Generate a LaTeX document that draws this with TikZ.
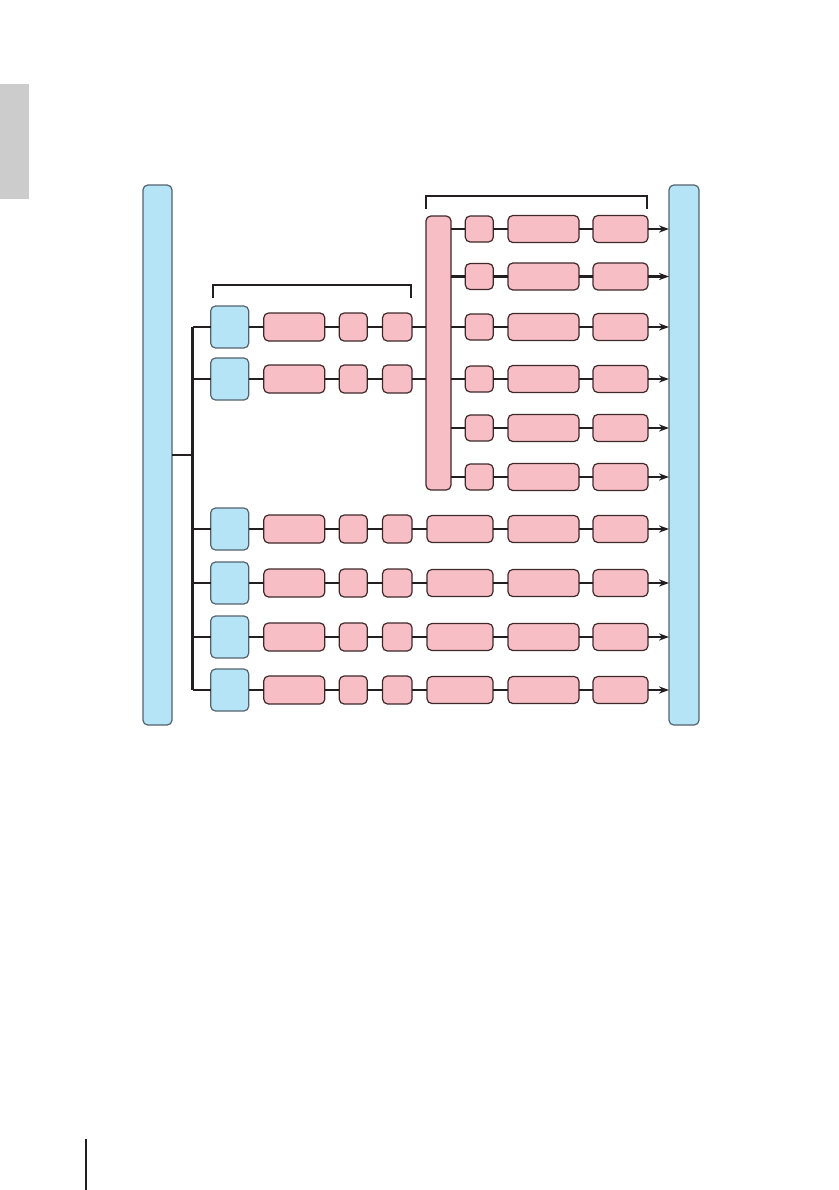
\documentclass[tikz,border=0pt]{standalone}
\usepackage{tikz}
\usetikzlibrary{arrows.meta, calc}
\definecolor{diagInk}{RGB}{35,31,32}
\definecolor{diagHub}{RGB}{181,228,247}
\definecolor{diagHubEdge}{RGB}{84,98,110}
\definecolor{diagStage}{RGB}{247,190,198}
\definecolor{diagStageEdge}{RGB}{62,40,42}
\definecolor{diagTab}{RGB}{204,204,204}
\tikzset{
  % generic rounded box; the colour comes from hub or stage below
  box/.style={
    draw, rounded corners=2.4pt, line width=0.6pt,
    inner sep=0pt, outer sep=0pt
  },
  hub/.style={box, fill=diagHub, draw=diagHubEdge},
  stage/.style={box, fill=diagStage, draw=diagStageEdge},
  % box sizes (1 unit of the picture = 0.5pt)
  hubbox/.style={hub, minimum width=19pt, minimum height=21pt},
  wideA/.style={stage, minimum width=30.5pt, minimum height=14pt},
  smallB/.style={stage, minimum width=14pt, minimum height=14pt},
  smallC/.style={stage, minimum width=14.75pt, minimum height=14pt},
  wideD/.style={stage, minimum width=33pt, minimum height=13.5pt},
  wideE/.style={stage, minimum width=35.5pt, minimum height=13.5pt},
  wideF/.style={stage, minimum width=27.5pt, minimum height=13.5pt},
  smallS/.style={stage, minimum width=14pt, minimum height=13pt},
  % connectors
  link/.style={draw=diagInk, line width=1.2pt},
  flow/.style={link, -{Stealth[length=5pt,width=3.6pt]}},
  bracket/.style={draw=diagInk, line width=1.2pt},
}
\begin{document}
\begin{tikzpicture}[x=0.5pt, y=-0.5pt]
\useasboundingbox (0,0) rectangle (839,1190);

% ===========================================================================
% PAGE MARKS: side tab and footer rule
% ===========================================================================
\fill[diagTab] (0,84) rectangle (29,199);
\draw[diagInk, line width=0.8pt] (86,1139) -- (86,1190);

% ===========================================================================
% OUTER BARS: source on the left, sink on the right
% ===========================================================================
\node[hub, minimum width=14.5pt, minimum height=270pt] (lbar) at (157.5,455) {};
\node[hub, minimum width=15pt, minimum height=270pt] (rbar) at (684,455) {};

% bus that feeds every row
\coordinate (busTop) at (192.5,327);
\coordinate (busMid) at (192.5,455);
\coordinate (busBot) at (192.5,690);
\draw[link] (busTop) -- (busBot);
\draw[link] (lbar.east |- busMid) -- (busMid);

% ===========================================================================
% UPPER ROWS: two short chains joined into the splitter
% ===========================================================================
\node[hubbox] (u1hub) at (229.7,327) {};
\node[wideA]  (u1a)   at (294.3,327) {};
\node[smallB] (u1b)   at (353.3,327) {};
\node[smallC] (u1c)   at (397.3,327) {};

\node[hubbox] (u2hub) at (229.7,379) {};
\node[wideA]  (u2a)   at (294.3,379) {};
\node[smallB] (u2b)   at (353.3,379) {};
\node[smallC] (u2c)   at (397.3,379) {};

\draw[link] (busTop |- u1hub) -- (u1hub) -- (u1a) -- (u1b) -- (u1c);
\draw[link] (busTop |- u2hub) -- (u2hub) -- (u2a) -- (u2b) -- (u2c);

\draw[bracket] (213,298) |- (411,285) -- (411,298);

% --- splitter bar ---
\node[stage, minimum width=12.5pt, minimum height=137pt] (split) at (438.5,353) {};

\draw[link] (u1c) -- (u1c -| split.west);
\draw[link] (u2c) -- (u2c -| split.west);

% ===========================================================================
% SPLIT ROWS: six chains out of the splitter
% ===========================================================================
\node[smallS] (s1a) at (479.3,229) {};
\node[wideE]  (s1b) at (543.5,229) {};
\node[wideF]  (s1c) at (620.5,229) {};

\node[smallS] (s2a) at (479.3,276.5) {};
\node[wideE]  (s2b) at (543.5,276.5) {};
\node[wideF]  (s2c) at (620.5,276.5) {};

\node[smallS] (s3a) at (479.3,327) {};
\node[wideE]  (s3b) at (543.5,327) {};
\node[wideF]  (s3c) at (620.5,327) {};

\node[smallS] (s4a) at (479.3,379) {};
\node[wideE]  (s4b) at (543.5,379) {};
\node[wideF]  (s4c) at (620.5,379) {};

\node[smallS] (s5a) at (479.3,428) {};
\node[wideE]  (s5b) at (543.5,428) {};
\node[wideF]  (s5c) at (620.5,428) {};

\node[smallS] (s6a) at (479.3,477) {};
\node[wideE]  (s6b) at (543.5,477) {};
\node[wideF]  (s6c) at (620.5,477) {};

\draw[link] (split.east |- s1a) -- (s1a) -- (s1b) -- (s1c);
\draw[link] (split.east |- s2a) -- (s2a) -- (s2b) -- (s2c);
\draw[link] (split.east |- s3a) -- (s3a) -- (s3b) -- (s3c);
\draw[link] (split.east |- s4a) -- (s4a) -- (s4b) -- (s4c);
\draw[link] (split.east |- s5a) -- (s5a) -- (s5b) -- (s5c);
\draw[link] (split.east |- s6a) -- (s6a) -- (s6b) -- (s6c);

\draw[flow] (s1c) -- (s1c -| rbar.west);
\draw[flow] (s2c) -- (s2c -| rbar.west);
\draw[flow] (s3c) -- (s3c -| rbar.west);
\draw[flow] (s4c) -- (s4c -| rbar.west);
\draw[flow] (s5c) -- (s5c -| rbar.west);
\draw[flow] (s6c) -- (s6c -| rbar.west);

\draw[bracket] (426,209) |- (647,196) -- (647,209);

% ===========================================================================
% LOWER ROWS: four full chains straight to the sink
% ===========================================================================
\node[hubbox] (r1hub) at (229.7,529) {};
\node[wideA]  (r1a)   at (294.3,529) {};
\node[smallB] (r1b)   at (353.3,529) {};
\node[smallC] (r1c)   at (397.3,529) {};
\node[wideD]  (r1d)   at (460,529) {};
\node[wideE]  (r1e)   at (543.5,529) {};
\node[wideF]  (r1f)   at (620.5,529) {};

\node[hubbox] (r2hub) at (229.7,583) {};
\node[wideA]  (r2a)   at (294.3,583) {};
\node[smallB] (r2b)   at (353.3,583) {};
\node[smallC] (r2c)   at (397.3,583) {};
\node[wideD]  (r2d)   at (460,583) {};
\node[wideE]  (r2e)   at (543.5,583) {};
\node[wideF]  (r2f)   at (620.5,583) {};

\node[hubbox] (r3hub) at (229.7,637) {};
\node[wideA]  (r3a)   at (294.3,637) {};
\node[smallB] (r3b)   at (353.3,637) {};
\node[smallC] (r3c)   at (397.3,637) {};
\node[wideD]  (r3d)   at (460,637) {};
\node[wideE]  (r3e)   at (543.5,637) {};
\node[wideF]  (r3f)   at (620.5,637) {};

\node[hubbox] (r4hub) at (229.7,690) {};
\node[wideA]  (r4a)   at (294.3,690) {};
\node[smallB] (r4b)   at (353.3,690) {};
\node[smallC] (r4c)   at (397.3,690) {};
\node[wideD]  (r4d)   at (460,690) {};
\node[wideE]  (r4e)   at (543.5,690) {};
\node[wideF]  (r4f)   at (620.5,690) {};

\draw[link] (busTop |- r1hub) -- (r1hub) -- (r1a) -- (r1b) -- (r1c) -- (r1d) -- (r1e) -- (r1f);
\draw[link] (busTop |- r2hub) -- (r2hub) -- (r2a) -- (r2b) -- (r2c) -- (r2d) -- (r2e) -- (r2f);
\draw[link] (busTop |- r3hub) -- (r3hub) -- (r3a) -- (r3b) -- (r3c) -- (r3d) -- (r3e) -- (r3f);
\draw[link] (busTop |- r4hub) -- (r4hub) -- (r4a) -- (r4b) -- (r4c) -- (r4d) -- (r4e) -- (r4f);

\draw[flow] (r1f) -- (r1f -| rbar.west);
\draw[flow] (r2f) -- (r2f -| rbar.west);
\draw[flow] (r3f) -- (r3f -| rbar.west);
\draw[flow] (r4f) -- (r4f -| rbar.west);

\end{tikzpicture}
\end{document}
